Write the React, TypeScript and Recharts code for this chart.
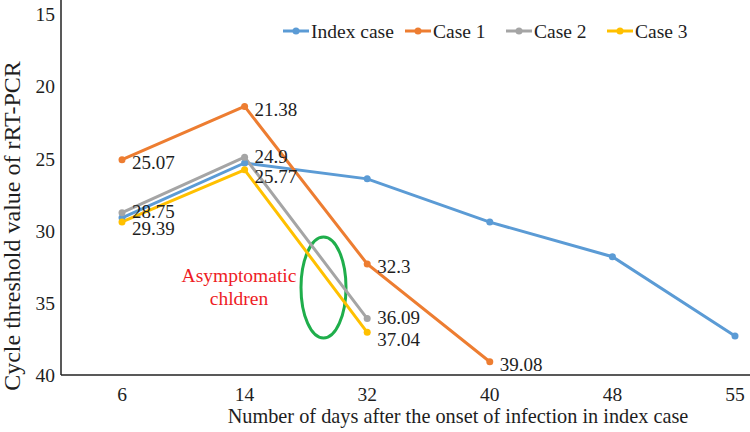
import React from "react";
import { LineChart, Line, XAxis, YAxis, LabelList, Customized } from "recharts";

const days = ["6", "14", "32", "40", "48", "55"];
const indexCase = [29.1, 25.3, 26.4, 29.4, 31.8, 37.3];
const case1 = [25.07, 21.38, 32.3, 39.08, null, null];
const case2 = [28.75, 24.9, 36.09, null, null, null];
const case3 = [29.39, 25.77, 37.04, null, null, null];
const yTicks = [15, 20, 25, 30, 35, 40];

const seriesNames = ["Index case", "Case 1", "Case 2", "Case 3"];
const seriesKeys = ["index", "c1", "c2", "c3"];
const colors = ["#5B9BD5", "#ED7D31", "#A5A5A5", "#FFC000"];

const data = days.map((d, i) => ({
  day: d,
  index: indexCase[i],
  c1: case1[i],
  c2: case2[i],
  c3: case3[i],
}));

const FONT = "'Liberation Serif', 'Times New Roman', serif";
const TXT = "#1e1e1e";

const makeLabel = (dy: number) => (props: any) => {
  const { x, y, value } = props;
  if (value == null) return null;
  return (
    <text x={x + 10} y={y + dy} dominantBaseline="central" fontSize={19} fontFamily={FONT} fill={TXT}>
      {value}
    </text>
  );
};

const legendX = [283, 405, 506, 607];

const Extras = () => (
  <g fontFamily={FONT}>
    {seriesNames.map((n, i) => (
      <g key={n}>
        <line x1={legendX[i]} x2={legendX[i] + 26} y1={31} y2={31} stroke={colors[i]} strokeWidth={3} />
        <circle cx={legendX[i] + 13} cy={31} r={3.5} fill={colors[i]} />
        <text x={legendX[i] + 28} y={31} dominantBaseline="central" fontSize={19.5} fill={TXT}>
          {n}
        </text>
      </g>
    ))}
    <text x={12} y={226} transform="rotate(-90 12 226)" textAnchor="middle" dominantBaseline="central" fontSize={24} fill={TXT}>
      Cycle threshold value of rRT-PCR
    </text>
    <text x={458} y={423} textAnchor="middle" fontSize={20.3} fill={TXT}>
      Number of days after the onset of infection in index case
    </text>
    <text x={239} y={275} textAnchor="middle" dominantBaseline="central" fontSize={19.5} fill="#EE1C25">
      Asymptomatic
    </text>
    <text x={239} y={298} textAnchor="middle" dominantBaseline="central" fontSize={19.5} fill="#EE1C25">
      chldren
    </text>
    <ellipse cx={323.5} cy={287.5} rx={22.5} ry={50.5} fill="none" stroke="#1FAE4B" strokeWidth={3} />
  </g>
);

const labelDy = [0, 3, -1, 7];

export default function App() {
  return (
    <div style={{ position: "absolute", left: 0, top: 0, width: 750, height: 432, overflow: "hidden", background: "#fff", fontFamily: FONT }}>
      <LineChart width={810} height={432} data={data} margin={{ top: 0, right: 14, bottom: 27, left: 0 }} style={{ fontFamily: FONT }}>
        <XAxis
          dataKey="day"
          height={30}
          padding={{ left: 61, right: 61 }}
          tickLine={false}
          axisLine={{ stroke: "#222", strokeWidth: 1.5 }}
          tick={{ fontSize: 19.5, fill: TXT, fontFamily: FONT }}
          tickMargin={6}
        />
        <YAxis
          width={61}
          reversed
          domain={[14, 40]}
          ticks={yTicks}
          allowDataOverflow
          tickLine={false}
          axisLine={{ stroke: "#222", strokeWidth: 1.5 }}
          tick={{ fontSize: 19.5, fill: TXT, fontFamily: FONT }}
          tickMargin={0}
        />
        {seriesKeys.map((k, i) => (
          <Line
            key={k}
            dataKey={k}
            name={seriesNames[i]}
            type="linear"
            stroke={colors[i]}
            strokeWidth={3}
            dot={{ r: 3.5, fill: colors[i], stroke: colors[i], strokeWidth: 0 }}
            isAnimationActive={false}
          >
            {k !== "index" && <LabelList dataKey={k} content={makeLabel(labelDy[i])} />}
          </Line>
        ))}
        <Customized component={<Extras />} />
      </LineChart>
    </div>
  );
}
